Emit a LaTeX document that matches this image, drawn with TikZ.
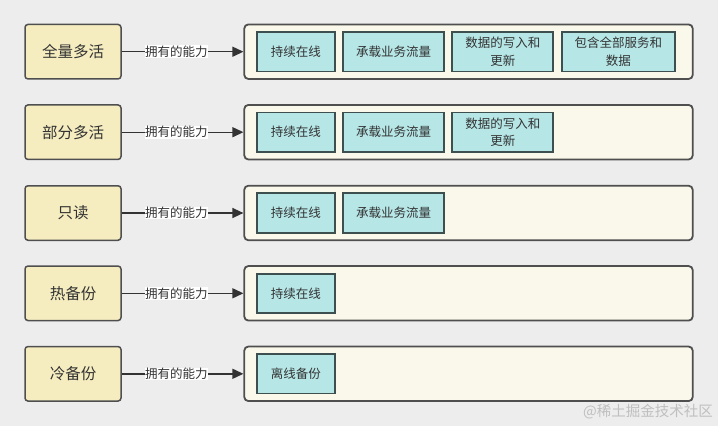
\documentclass[tikz,border=0pt]{standalone}
\usepackage{fontspec}
\setmainfont{Noto Sans CJK SC}
\usetikzlibrary{arrows.meta}
\definecolor{bgc}{HTML}{EDEDED}
\definecolor{lfill}{HTML}{F5EDC0}
\definecolor{cfill}{HTML}{F9F8EA}
\definecolor{ifill}{HTML}{B6E6E6}
\definecolor{iline}{HTML}{3D4F4F}
\definecolor{dline}{HTML}{4F4F4F}
\definecolor{txt}{HTML}{333333}
\tikzset{
  x=1pt, y=-1pt,
  levelbox/.style={draw=dline, line width=1.5pt, fill=lfill, rounded corners=3pt,
    minimum width=96pt, minimum height=54.5pt, inner sep=0pt, font=\fontsize{15.5}{18}\selectfont, text=txt},
  contbox/.style={draw=dline, line width=1.8pt, fill=cfill, rounded corners=4pt,
    minimum width=448.4pt, minimum height=54.5pt, inner sep=0pt},
  capbox/.style={draw=iline, line width=1.8pt, fill=ifill,
    minimum height=39.4pt, inner sep=0pt, align=center, font=\fontsize{12.5}{17.5}\selectfont, text=txt},
  linkarrow/.style={draw=txt, line width=1.4pt, -{Triangle[length=11pt,width=10pt]}},
  linklabel/.style={fill=white, inner sep=0.5pt, font=\fontsize{12.5}{15}\selectfont, text=txt},
}
\begin{document}
\begin{tikzpicture}
\fill[bgc] (0,0) rectangle (718,426);
\useasboundingbox (0,0) rectangle (718,426);

% row 1
\node[levelbox] (l1) at (73,51.7) {全量多活};
\node[contbox] (c1) at (468.5,51.7) {};
\node[capbox, minimum width=78.3pt] (r1a) at (295.85,51.7) {持续在线};
\node[capbox, minimum width=100.7pt] (r1b) at (393.65,51.7) {承载业务流量};
\node[capbox, minimum width=101pt] (r1c) at (502.8,51.7) {数据的写入和\\更新};
\node[capbox, minimum width=113.3pt] (r1d) at (618.35,51.7) {包含全部服务和\\数据};
\draw[linkarrow] (l1) -- node[linklabel, pos=0.45] {拥有的能力} (c1);

% row 2
\node[levelbox] (l2) at (73,132.2) {部分多活};
\node[contbox] (c2) at (468.5,132.2) {};
\node[capbox, minimum width=78.3pt] (r2a) at (295.85,132.2) {持续在线};
\node[capbox, minimum width=100.7pt] (r2b) at (393.65,132.2) {承载业务流量};
\node[capbox, minimum width=101pt] (r2c) at (502.8,132.2) {数据的写入和\\更新};
\draw[linkarrow] (l2) -- node[linklabel, pos=0.45] {拥有的能力} (c2);

% row 3
\node[levelbox] (l3) at (73,213) {只读};
\node[contbox] (c3) at (468.5,213) {};
\node[capbox, minimum width=78.3pt] (r3a) at (295.85,213) {持续在线};
\node[capbox, minimum width=100.7pt] (r3b) at (393.65,213) {承载业务流量};
\draw[linkarrow] (l3) -- node[linklabel, pos=0.45] {拥有的能力} (c3);

% row 4
\node[levelbox] (l4) at (73,293.3) {热备份};
\node[contbox] (c4) at (468.5,293.3) {};
\node[capbox, minimum width=78.3pt] (r4a) at (295.85,293.3) {持续在线};
\draw[linkarrow] (l4) -- node[linklabel, pos=0.45] {拥有的能力} (c4);

% row 5
\node[levelbox] (l5) at (73,373.8) {冷备份};
\node[contbox] (c5) at (468.5,373.8) {};
\node[capbox, minimum width=78.3pt] (r5a) at (295.85,373.8) {离线备份};
\draw[linkarrow] (l5) -- node[linklabel, pos=0.45] {拥有的能力} (c5);

% watermark
\node[anchor=east, inner sep=0pt, text=black!25, font=\fontsize{14.5}{16}\selectfont] (wm) at (713,412) {@稀土掘金技术社区};
\end{tikzpicture}
\end{document}
